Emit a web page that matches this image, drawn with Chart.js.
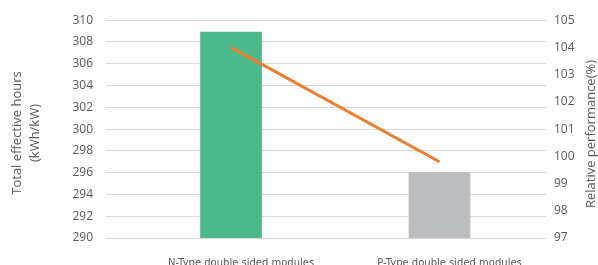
<!DOCTYPE html>
<html>
<head>
<meta charset="utf-8">
<script src="https://cdn.jsdelivr.net/npm/chart.js@4.4.0/dist/chart.umd.min.js"></script>
<style>
  html, body { margin: 0; padding: 0; background: #fff; }
  #wrap { width: 598px; height: 265px; }
</style>
</head>
<body>
<div id="wrap"><canvas id="myChart" width="598" height="265"></canvas></div>
<script>
// data
let categories = ['N-Type double sided modules', 'P-Type double sided modules'];
let hours = [308.9, 296.0];        // left axis, kWh/kW
let relative = [104.0, 99.8];      // right axis, %
let leftTicks = [290, 310, 2];
let rightTicks = [97, 105, 1];

const gray = '#595959';

// axis titles, both reading bottom to top like the original
const titles = {
    id: 'titles',
    afterDraw(chart) {
        const c = chart.ctx;
        c.save();
        c.fillStyle = gray;
        c.font = '13px "Open Sans"';
        c.textAlign = 'center';
        c.textBaseline = 'middle';
        c.translate(17, 133);
        c.rotate(-Math.PI / 2);
        c.fillText('Total effective hours', 0, 0);
        c.fillText('(kWh/kW)', 0, 18);
        c.restore();

        c.save();
        c.fillStyle = gray;
        c.font = '13px "Open Sans"';
        c.textAlign = 'center';
        c.textBaseline = 'middle';
        c.translate(591, 134);
        c.rotate(-Math.PI / 2);
        c.fillText('Relative performance(%)', 0, 0);
        c.restore();
    }
};

var ctx = document.getElementById('myChart').getContext('2d');
var myChart = new Chart(ctx, {
    data: {
        datasets: [{
            type: 'line',
            data: relative.map((v, i) => ({x: i, y: v})),
            yAxisID: 'y1',
            borderColor: '#ED7D31',
            borderWidth: 3,
            pointRadius: 0,
            tension: 0,
            order: 0
        }, {
            type: 'bar',
            data: hours.map((v, i) => ({x: i, y: v})),
            yAxisID: 'y',
            backgroundColor: ['#4BB98B', '#BCBDC1'],
            barThickness: 61,
            order: 1
        }]
    },
    options: {
        responsive: false,
        animation: false,
        layout: { padding: { top: 18, left: 0, right: 0, bottom: 0 } },
        plugins: { legend: { display: false }, tooltip: { enabled: false } },
        scales: {
            x: {
                type: 'linear',
                min: -0.6,
                max: 1.511,
                offset: false,
                bounds: 'data',
                afterBuildTicks: axis => { axis.ticks = categories.map((c, i) => ({value: i})); },
                afterFit: axis => { axis.height = 27; },
                grid: { display: false },
                border: { display: false },
                ticks: {
                    callback: v => categories[v],
                    color: gray,
                    font: { family: 'DejaVu Sans', size: 10 },
                    padding: 11,
                    labelOffset: 10,
                    maxRotation: 0,
                    autoSkip: false
                }
            },
            y: {
                position: 'left',
                min: leftTicks[0],
                max: leftTicks[1],
                afterFit: axis => { axis.width = 106; },
                grid: { color: '#D9D9D9', drawTicks: false },
                border: { display: false },
                ticks: {
                    stepSize: leftTicks[2],
                    color: gray,
                    font: { family: 'Open Sans', size: 12 },
                    padding: 13
                }
            },
            y1: {
                position: 'right',
                min: rightTicks[0],
                max: rightTicks[1],
                afterFit: axis => { axis.width = 52; },
                grid: { display: false, drawTicks: false },
                border: { display: false },
                ticks: {
                    stepSize: rightTicks[2],
                    color: gray,
                    font: { family: 'Open Sans', size: 12 },
                    padding: 8
                }
            }
        }
    },
    plugins: [titles]
});
</script>
</body>
</html>
